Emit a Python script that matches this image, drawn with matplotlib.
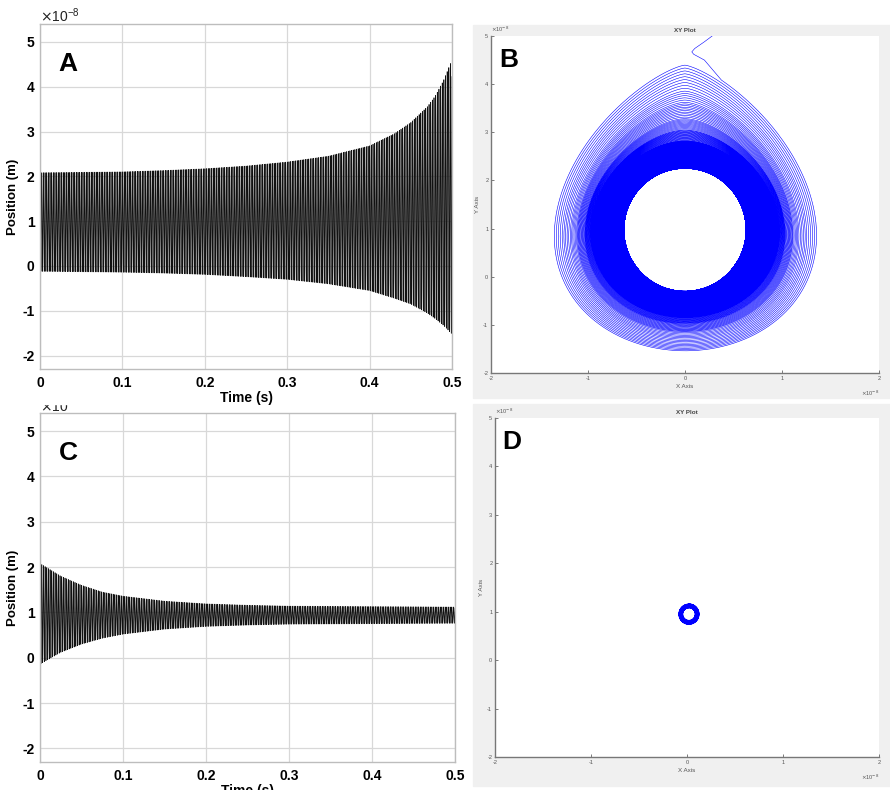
import numpy as np
import matplotlib
matplotlib.use("Agg")
import matplotlib.pyplot as plt
from matplotlib.patches import Rectangle

# ---------------- data (units of 1e-8 m) ----------------
t_env = [0.0, 0.05, 0.1, 0.15, 0.2, 0.25, 0.3, 0.35, 0.4, 0.43, 0.45, 0.47, 0.48, 0.49, 0.5]
A_upper = [2.08, 2.09, 2.10, 2.13, 2.17, 2.23, 2.32, 2.45, 2.68, 2.95, 3.20, 3.55, 3.80, 4.15, 4.60]
A_lower = [-0.12, -0.13, -0.14, -0.16, -0.19, -0.24, -0.30, -0.40, -0.55, -0.72, -0.85, -1.05, -1.18, -1.33, -1.52]

B_upper = [2.25, 2.26, 2.27, 2.30, 2.34, 2.40, 2.48, 2.60, 2.82, 3.05, 3.28, 3.62, 3.85, 4.15, 4.45]
B_lower = [-0.30, -0.31, -0.32, -0.34, -0.37, -0.42, -0.48, -0.56, -0.70, -0.85, -0.98, -1.15, -1.28, -1.42, -1.55]
B_xhalf = [0.63, 0.63, 0.64, 0.65, 0.67, 0.70, 0.74, 0.80, 0.90, 0.98, 1.04, 1.12, 1.18, 1.26, 1.36]
B_tip = [0.0, 0.0, 0.0, 0.0, 0.02, 0.05, 0.10, 0.18, 0.30, 0.45, 0.58, 0.74, 0.84, 0.93, 1.0]
tail_x = [0.37, 0.20, 0.09, 0.07, 0.10, 0.20, 0.28, 0.34]
tail_y = [4.24, 4.50, 4.62, 4.67, 4.74, 4.88, 5.00, 5.10]

C_t = [0.0, 0.025, 0.05, 0.075, 0.1, 0.15, 0.2, 0.25, 0.3, 0.4, 0.5]
C_upper = [2.08, 1.80, 1.60, 1.45, 1.36, 1.25, 1.19, 1.16, 1.14, 1.13, 1.12]
C_lower = [-0.14, 0.12, 0.30, 0.43, 0.52, 0.63, 0.69, 0.72, 0.74, 0.75, 0.76]

D_center = [0.02, 0.95]
D_yamp = [0.21, 0.13]
D_xamp = [0.105, 0.065]
D_loops = 25

freq = 500.0          # oscillation frequency (Hz)
phase = -0.5          # phase offset (rad)

A_xticks = [0, 0.1, 0.2, 0.3, 0.4, 0.5]
A_yticks = [-2, -1, 0, 1, 2, 3, 4, 5]
XY_xticks = [-2, -1, 0, 1, 2]
XY_yticks = [-2, -1, 0, 1, 2, 3, 4, 5]

# ---------------- figure ----------------
W, H = 890, 790
plt.rcParams['font.family'] = ['Liberation Sans', 'DejaVu Sans']
plt.rcParams['axes.unicode_minus'] = False
fig = plt.figure(figsize=(W / 100, H / 100), dpi=100)


def rect(x0, y0, x1, y1):
    """pixel box (top-left origin) -> figure fraction rect"""
    return [x0 / W, 1 - y1 / H, (x1 - x0) / W, (y1 - y0) / H]


# gray panels behind B and D
fig.patches.append(Rectangle((473 / W, 1 - 398 / H), (W - 473) / W, 373 / H,
                             transform=fig.transFigure, color='#f0f0f0', zorder=-5))
fig.patches.append(Rectangle((473 / W, 1 - 786 / H), (W - 473) / W, 382 / H,
                             transform=fig.transFigure, color='#f0f0f0', zorder=-5))

t = np.linspace(0, 0.5, 60001)
theta = 2 * np.pi * freq * t + phase


def time_panel(ax, upper, lower, tt, letter):
    up = np.interp(t, tt, upper)
    lo = np.interp(t, tt, lower)
    c = (up + lo) / 2
    a = (up - lo) / 2
    y = c + a * np.cos(theta)
    ax.plot(t, y, color='#111111', lw=0.5)
    ax.set_xlim(0, 0.5)
    ax.set_ylim(-2.3, 5.4)
    ax.set_xticks(A_xticks)
    ax.set_xticklabels(['0', '0.1', '0.2', '0.3', '0.4', '0.5'])
    ax.set_yticks(A_yticks)
    ax.grid(True, color='#d8d8d8', lw=0.9)
    ax.set_axisbelow(True)
    for s in ax.spines.values():
        s.set_color('#bdbdbd')
        s.set_linewidth(1.0)
    ax.tick_params(length=0, labelsize=10, pad=5)
    ax.tick_params(axis='y', pad=4)
    for lab in ax.get_xticklabels() + ax.get_yticklabels():
        lab.set_fontweight('bold')
    ax.set_ylabel('Position (m)', fontsize=9.5, fontweight='bold', labelpad=2)
    ax.set_xlabel('Time (s)', fontsize=10, fontweight='bold', labelpad=1)
    ax.text(0.045, 0.885, letter, transform=ax.transAxes, fontsize=19,
            fontweight='bold', va='center', ha='left')


axA = fig.add_axes(rect(40, 24, 452, 369))
time_panel(axA, A_upper, A_lower, t_env, 'A')
fig.text(40 / W, 1 - 16 / H, r'$\times$10$^{\mathregular{-8}}$', fontsize=10,
         ha='left', va='center', color='#222222')

axC = fig.add_axes(rect(40, 413, 455, 762))
time_panel(axC, C_upper, C_lower, C_t, 'C')
fig.text(40 / W, 1 - 407 / H, r'$\times$10', fontsize=10,
         ha='left', va='center', color='#222222')
# the cut at the top of panel C hides the upper half of the exponent label
fig.patches.append(Rectangle((30 / W, 1 - 404 / H), 100 / W, 14 / H,
                             transform=fig.transFigure, color='white', zorder=5))


def xy_style(ax, letter):
    ax.set_xlim(-2, 2)
    ax.set_ylim(-2, 5)
    ax.set_xticks(XY_xticks)
    ax.set_yticks(XY_yticks)
    ax.set_facecolor('white')
    for side in ('top', 'right'):
        ax.spines[side].set_visible(False)
    for side in ('left', 'bottom'):
        ax.spines[side].set_color('#777777')
        ax.spines[side].set_linewidth(1.0)
    ax.tick_params(direction='in', length=2.5, width=0.6, colors='#666666',
                   labelsize=4, labelcolor='#555555', pad=2)
    ax.set_title('XY Plot', fontsize=4.5, fontweight='bold', color='#444444', pad=3)
    ax.set_xlabel('X Axis', fontsize=4.5, color='#555555', labelpad=2)
    ax.set_ylabel('Y Axis', fontsize=4.5, color='#555555', labelpad=2)
    ax.text(0.02, 0.93, letter, transform=ax.transAxes, fontsize=19,
            fontweight='bold', va='center', ha='left')
    ax.text(1.0, -0.06, r'$\times$10$^{-8}$', transform=ax.transAxes, fontsize=4,
            ha='right', va='center', color='#555555')
    ax.text(0.0, 1.005, r'$\times$10$^{-8}$', transform=ax.transAxes, fontsize=4,
            ha='left', va='bottom', color='#555555')


# ---- B: growing spiral
axB = fig.add_axes(rect(491, 36, 879, 373))
tb = np.linspace(0, 0.5, 120001)
thb = 2 * np.pi * freq * tb + phase
up = np.interp(tb, t_env, B_upper)
lo = np.interp(tb, t_env, B_lower)
bx = np.interp(tb, t_env, B_xhalf)
k = np.interp(tb, t_env, B_tip)
shape = (1 - k) + k * np.sqrt(np.abs(np.sin(thb / 2))) / 0.862
xb = -bx * np.sin(thb) * shape
yb = (up + lo) / 2 + (up - lo) / 2 * np.cos(thb)
xb = np.concatenate([xb, tail_x[1:]])
yb = np.concatenate([yb, tail_y[1:]])
axB.plot(xb, yb, color='#0000ff', lw=0.4)
xy_style(axB, 'B')

# ---- D: small converged ring
axD = fig.add_axes(rect(495, 418, 879, 757))
s = np.linspace(0, 1, 4000)
thd = 2 * np.pi * D_loops * s
ya = np.interp(s, [0, 1], D_yamp)
xa = np.interp(s, [0, 1], D_xamp)
axD.plot(D_center[0] + xa * np.sin(thd), D_center[1] + ya * np.cos(thd),
         color='#0000ff', lw=0.8)
xy_style(axD, 'D')

fig.savefig('out.png', dpi=100)
